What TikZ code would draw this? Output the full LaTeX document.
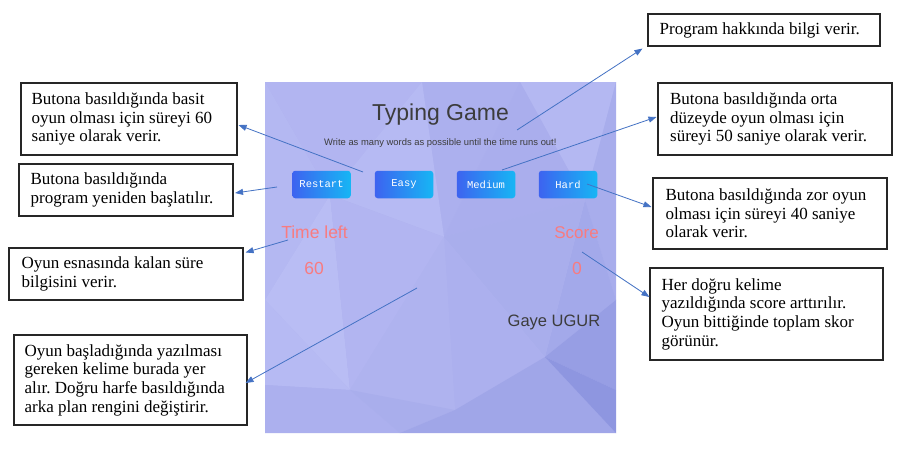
\documentclass[tikz,border=0pt]{standalone}
\usepackage{fontspec}
\setmainfont{Liberation Serif}
\newfontfamily\sansf{Liberation Sans}
\newfontfamily\monof{Liberation Mono}
\usetikzlibrary{arrows.meta,calc}
\definecolor{bgbase}{HTML}{AFB3EF}
\definecolor{pA}{HTML}{B2B5F1}
\definecolor{pB}{HTML}{ACB0EE}
\definecolor{pC}{HTML}{B6BAF3}
\definecolor{pD}{HTML}{B4B8F2}
\definecolor{pE}{HTML}{AAAEED}
\definecolor{pF}{HTML}{A8ADEC}
\definecolor{pG}{HTML}{A3A9EA}
\definecolor{pH}{HTML}{B9BDF4}
\definecolor{pI}{HTML}{A9AEEC}
\definecolor{pJ}{HTML}{A0A6E8}
\definecolor{pK}{HTML}{979EE4}
\definecolor{pL}{HTML}{8E96E0}
\definecolor{arrowblue}{HTML}{4472C4}
\definecolor{salmon}{HTML}{F87B80}
\definecolor{darktext}{HTML}{3C3C3C}
\definecolor{btnA}{HTML}{3D63F0}
\definecolor{btnM}{HTML}{3578F1}
\definecolor{btnB}{HTML}{16B6F4}
\begin{document}
\frenchspacing
\begin{tikzpicture}[x=1pt,y=-1pt,
  cbox/.style={draw=black!85, line width=1.1pt, fill=white, inner sep=0pt},
  ctext/.style={anchor=west, align=left, inner sep=0pt, font=\fontsize{17}{18.7}\selectfont},
  arr/.style={draw=arrowblue, line width=0.8pt, -{Triangle[length=8pt,width=6pt]}},
  btn/.style={rounded corners=3pt, left color=btnA, middle color=btnM, right color=btnB,
    minimum width=58.5pt, minimum height=27.5pt, inner sep=0pt, text=white,
    font=\monof\fontsize{10.5}{12}\selectfont},
  scr/.style={anchor=base, inner sep=0pt, font=\sansf}
]
\useasboundingbox (0,0) rectangle (905,448);
\fill[white] (0,0) rectangle (905,448);

% ---------- screenshot panel ----------
\begin{scope}
\clip (265,82) rectangle (616,433);
\fill[bgbase] (265,82) rectangle (616,433);
\fill[pA] (265,82) -- (422,82) -- (330,195) -- cycle;
\fill[pB] (422,82) -- (520,82) -- (444,237) -- cycle;
\fill[pC] (422,82) -- (444,237) -- (330,195) -- cycle;
\fill[pD] (520,82) -- (616,82) -- (585,200) -- cycle;
\fill[pE] (520,82) -- (585,200) -- (444,237) -- cycle;
\fill[pF] (616,82) -- (616,300) -- (585,200) -- cycle;
\fill[pG] (585,200) -- (616,300) -- (545,357) -- cycle;
\fill[pI] (444,237) -- (585,200) -- (545,357) -- cycle;
\fill[pD] (265,82) -- (330,195) -- (265,300) -- cycle;
\fill[pH] (265,300) -- (330,195) -- (350,390) -- cycle;
\fill[pA] (330,195) -- (444,237) -- (350,390) -- cycle;
\fill[pB] (444,237) -- (545,357) -- (455,410) -- cycle;
\fill[bgbase] (444,237) -- (455,410) -- (350,390) -- cycle;
\fill[pC] (265,300) -- (350,390) -- (265,385) -- cycle;
\fill[pB] (265,385) -- (350,390) -- (400,433) -- (265,433) -- cycle;
\fill[pI] (350,390) -- (455,410) -- (400,433) -- cycle;
\fill[pJ] (455,410) -- (545,357) -- (616,433) -- (400,433) -- cycle;
\fill[pK] (545,357) -- (616,300) -- (616,390) -- cycle;
\fill[pL] (545,357) -- (616,390) -- (616,433) -- cycle;
\end{scope}

\node[scr, text=darktext, font=\sansf\fontsize{23}{26}\selectfont] (title) at (440.5,120) {Typing Game};
\node[scr, text=darktext, font=\sansf\fontsize{9.4}{11}\selectfont] (sub) at (440.3,145) {Write as many words as possible until the time runs out!};

\node[btn] (restart) at (321.5,184.5) {Restart};
\node[btn] (easy) at (404,184.5) {Easy};
\node[btn] (medium) at (486,184.5) {Medium};
\node[btn] (hard) at (568,184.5) {Hard};

\node[scr, text=salmon, font=\sansf\fontsize{17.5}{20}\selectfont] (timeleft) at (314.5,238.3) {Time left};
\node[scr, text=salmon, font=\sansf\fontsize{17.5}{20}\selectfont] (sixty) at (314,274) {60};
\node[scr, text=salmon, font=\sansf\fontsize{17}{20}\selectfont] (score) at (576.5,238.3) {Score};
\node[scr, text=salmon, font=\sansf\fontsize{17.5}{20}\selectfont] (zero) at (577,274) {0};
\node[scr, text=darktext, font=\sansf\fontsize{16.5}{20}\selectfont] (name) at (554,326) {Gaye UGUR};

% ---------- callout boxes ----------
\node[cbox, minimum width=232pt, minimum height=32pt] (b1) at (764,30) {};
\node[ctext] (t1) at ($(b1.west)+(12,0)$) {Program hakkında bilgi verir.};

\node[cbox, minimum width=234pt, minimum height=72pt] (b2) at (775,119) {};
\node[ctext] (t2) at ($(b2.west)+(12.5,0)$) {Butona basıldığında orta\\düzeyde oyun olması için\\süreyi 50 saniye olarak verir.};

\node[cbox, minimum width=234pt, minimum height=71pt] (b3) at (770,213.5) {};
\node[ctext] (t3) at ($(b3.west)+(13,0)$) {Butona basıldığında zor oyun\\olması için süreyi 40 saniye\\olarak verir.};

\node[cbox, minimum width=233pt, minimum height=92pt] (b4) at (766.5,314) {};
\node[ctext] (t4) at ($(b4.west)+(12,0)$) {Her doğru kelime\\yazıldığında score arttırılır.\\Oyun bittiğinde toplam skor\\görünür.};

\node[cbox, minimum width=216pt, minimum height=72pt] (b5) at (129,119) {};
\node[ctext] (t5) at ($(b5.west)+(11,0)$) {Butona basıldığında basit\\oyun olması için süreyi 60\\saniye olarak verir.};

\node[cbox, minimum width=214pt, minimum height=52pt] (b6) at (126,190) {};
\node[ctext] (t6) at ($(b6.west)+(12,0)$) {Butona basıldığında\\program yeniden başlatılır.};

\node[cbox, minimum width=234pt, minimum height=52pt] (b7) at (126,274) {};
\node[ctext] (t7) at ($(b7.west)+(13,0)$) {Oyun esnasında kalan süre\\bilgisini verir.};

\node[cbox, minimum width=233pt, minimum height=90pt] (b8) at (130.5,380) {};
\node[ctext] (t8) at ($(b8.west)+(11,0)$) {Oyun başladığında yazılması\\gereken kelime burada yer\\alır. Doğru harfe basıldığında\\arka plan rengini değiştirir.};

% ---------- connectors ----------
\coordinate (s1) at (517,130);
\coordinate (s2) at (502,170);
\coordinate (s3) at (587,184);
\coordinate (s4) at (582,252);
\coordinate (s5) at (363,172);
\coordinate (s6) at (277,187);
\coordinate (s7) at (288,240);
\coordinate (s8) at (417,288);

\draw[arr] (s1) -- ($(b1.south west)+(-5,2)$);
\draw[arr] (s2) -- ($(b2.west)+(-1,-2)$);
\draw[arr] (s3) -- ($(b3.west)+(-1,-6.5)$);
\draw[arr] (s4) -- ($(b4.west)+(0,-17)$);
\draw[arr] (s5) -- ($(b5.east)+(1,6)$);
\draw[arr] (s6) -- ($(b6.east)+(1.5,3)$);
\draw[arr] (s7) -- ($(b7.north east)+(2,5)$);
\draw[arr] (s8) -- ($(b8.east)+(-2,3)$);
\end{tikzpicture}
\end{document}
